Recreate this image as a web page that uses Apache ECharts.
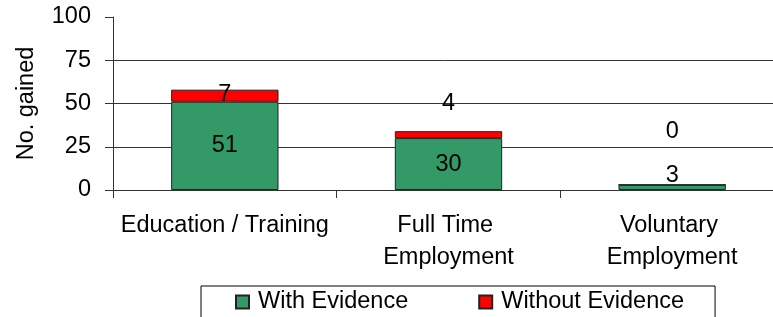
<!DOCTYPE html>
<html>
<head>
<meta charset="utf-8">
<script src="https://cdn.jsdelivr.net/npm/echarts@6/dist/echarts.min.js"></script>
<style>
html,body{margin:0;padding:0;background:#fff;}
#chart{width:773px;height:317px;}
</style>
</head>
<body>
<div id="chart"></div>
<script>
const categories = ['Education / Training', 'Full Time Employment', 'Voluntary Employment'];
const withEvidence = [51, 30, 3];
const withoutEvidence = [7, 4, 0];
const yTicks = [0, 25, 50, 75, 100];
const seriesNames = ['With Evidence', 'Without Evidence'];

const FONT = 'Liberation Sans, Arial, sans-serif';
const FS = 23.5;

// Excel-style label nudges (pixels) for each bar segment
const greenOffsets = [[0, 0], [0, 0], [0, -12]];
const redOffsets = [[0, -1], [0, -31], [0, -53]];

const chart = echarts.init(document.getElementById('chart'), null, {renderer: 'canvas'});

function build(values, offsets) {
  return values.map((v, i) => ({
    value: v,
    label: {offset: offsets[i]}
  }));
}

const option = {
  animation: false,
  backgroundColor: '#fff',
  textStyle: {fontFamily: FONT},
  grid: {left: 113, width: 671, top: 17, height: 173, containLabel: false, outerBoundsMode: 'none'},
  xAxis: {
    type: 'category',
    data: categories,
    axisLine: {show: true, lineStyle: {color: '#333', width: 1}},
    axisTick: {show: true, inside: false, length: 8, lineStyle: {color: '#333', width: 1}},
    axisLabel: {
      color: '#000', fontFamily: FONT, fontSize: FS, lineHeight: 32,
      margin: 20, interval: 0, width: 222, overflow: 'break'
    }
  },
  yAxis: {
    type: 'value',
    min: yTicks[0],
    max: yTicks[yTicks.length - 1],
    interval: 25,
    name: 'No. gained',
    nameLocation: 'middle',
    nameGap: 74,
    nameTextStyle: {color: '#000', fontFamily: FONT, fontSize: FS},
    axisLine: {show: true, lineStyle: {color: '#333', width: 1}},
    axisTick: {show: true, inside: false, length: 8, lineStyle: {color: '#333', width: 1}},
    axisLabel: {color: '#000', fontFamily: FONT, fontSize: FS, margin: 22},
    splitLine: {show: true, lineStyle: {color: ['#333', '#333', '#333', '#333', 'rgba(0,0,0,0)'], width: 1}}
  },
  legend: {
    data: seriesNames,
    left: 201,
    top: 286,
    orient: 'horizontal',
    padding: [4, 31, 12, 34],
    itemGap: 70,
    itemWidth: 13,
    itemHeight: 13,
    icon: 'rect',
    borderColor: '#000',
    borderWidth: 1,
    backgroundColor: '#fff',
    textStyle: {color: '#000', fontFamily: FONT, fontSize: FS, lineHeight: 24, padding: [0, 0, 0, 4]}
  },
  series: [
    {
      name: seriesNames[0],
      type: 'bar',
      stack: 'total',
      barWidth: '48%',
      data: build(withEvidence, greenOffsets),
      itemStyle: {color: '#339966', borderColor: '#222', borderWidth: 1},
      label: {show: true, position: 'inside', color: '#000', fontFamily: FONT, fontSize: FS}
    },
    {
      name: seriesNames[1],
      type: 'bar',
      stack: 'total',
      barWidth: '48%',
      data: build(withoutEvidence, redOffsets),
      itemStyle: {color: '#ff0000', borderColor: '#222', borderWidth: 1},
      label: {show: true, position: 'inside', color: '#000', fontFamily: FONT, fontSize: FS}
    }
  ]
};
chart.setOption(option);
</script>
</body>
</html>
